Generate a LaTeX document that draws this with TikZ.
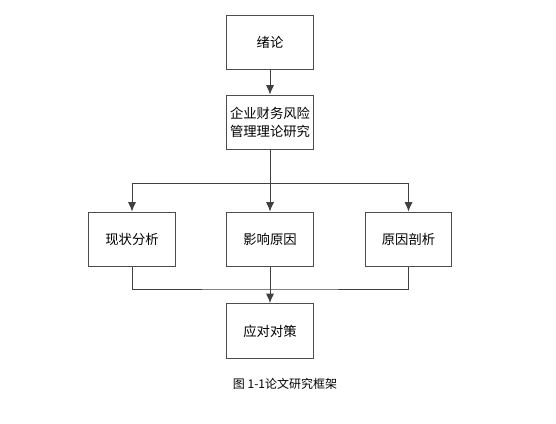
\documentclass[tikz,border=0pt]{standalone}
\usepackage{fontspec}
\newfontfamily\cjk{Noto Sans CJK SC}
\usetikzlibrary{arrows.meta}
\begin{document}
\begin{tikzpicture}[x=0.75pt,y=-0.75pt,
    box/.style={draw=black!70, line width=0.9pt, minimum width=65pt, minimum height=41pt,
        inner sep=0pt, align=center, font=\cjk\fontsize{10}{13.5}\selectfont},
    link/.style={draw=black!75, line width=0.7pt, -{Latex[length=7pt,width=6pt]}}]
    \useasboundingbox (0,0) rectangle (556,424);

    % Top boxes
    \node[box] (intro) at (270,42.5) {绪论};
    \node[box] (theory) at (270,122.5) {企业财务风险\\管理理论研究};

    % Middle row
    \node[box] (status) at (132,239.5) {现状分析};
    \node[box] (cause) at (270,239.5) {影响原因};
    \node[box] (analysis) at (408.5,239.5) {原因剖析};

    % Bottom box
    \node[box] (plan) at (270,331) {应对对策};

    % Connectors
    \coordinate (split) at (270,183);
    \coordinate (merge) at (270,289);
    \draw[link] (intro) -- (theory);
    \draw[link] (theory) -- (cause);
    \draw[link] (split) -| (status.north);
    \draw[link] (split) -| (analysis.north);
    \draw[link] (cause) -- (plan);
    \draw[draw=black!75, line width=0.7pt] (status.south) |- (merge) -| (analysis.south);

    % Caption
    \node[font=\cjk\fontsize{9}{11}\selectfont] (caption) at (285,384) {图 1-1论文研究框架};
\end{tikzpicture}
\end{document}
